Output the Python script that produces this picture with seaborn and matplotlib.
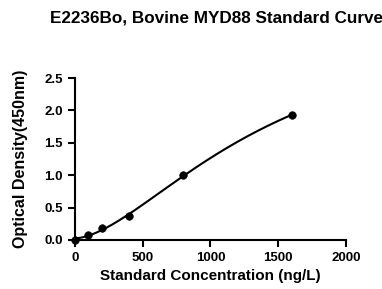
import numpy as np
import pandas as pd
import matplotlib.pyplot as plt
import seaborn as sns

# standard curve data
concentration = [0, 100, 200, 400, 800, 1600]
od_450 = [0.0, 0.08, 0.18, 0.37, 1.0, 1.93]

sns.set_style("ticks")
plt.rcParams["font.family"] = ["Liberation Sans", "DejaVu Sans"]
plt.rcParams["font.weight"] = "bold"
plt.rcParams["text.color"] = "black"
plt.rcParams["axes.labelcolor"] = "black"
plt.rcParams["xtick.color"] = "black"
plt.rcParams["ytick.color"] = "black"

df = pd.DataFrame({"conc": concentration, "od": od_450})


def four_pl(x, a, b, c, d):
    return d + (a - d) / (1 + (x / c) ** b)


# 4PL fit: grid over slope/midpoint, linear least squares for the asymptotes
x_arr = df["conc"].to_numpy(dtype=float)
y_arr = df["od"].to_numpy(dtype=float)
best = None
for b in np.linspace(1.0, 3.5, 51):
    for c in np.linspace(300, 6000, 115):
        g = 1 / (1 + (x_arr / c) ** b)
        A = np.column_stack([g, 1 - g])
        sol, *_ = np.linalg.lstsq(A, y_arr, rcond=None)
        err = np.sum((A @ sol - y_arr) ** 2)
        if best is None or err < best[0]:
            best = (err, sol[0], b, c, sol[1])
_, a, b, c, d = best

xs = np.linspace(0, max(concentration), 300)
fit = pd.DataFrame({"conc": xs, "od": four_pl(xs, a, b, c, d)})

fig = plt.figure(figsize=(3.82, 2.89), dpi=100)
ax = fig.add_axes([0.196, 0.170, 0.710, 0.560])

sns.lineplot(data=fit, x="conc", y="od", color="black", linewidth=1.5, ax=ax)
sns.scatterplot(data=df, x="conc", y="od", color="black", s=30,
                edgecolor="black", ax=ax, clip_on=False, zorder=5)

ax.set_xlim(0, 2000)
ax.set_ylim(0, 2.5)
ax.set_xticks([0, 500, 1000, 1500, 2000])
ax.set_yticks([0.0, 0.5, 1.0, 1.5, 2.0, 2.5])
ax.set_yticklabels(["0.0", "0.5", "1.0", "1.5", "2.0", "2.5"])
ax.tick_params(labelsize=9.5, width=1.5, length=5, color="black")
for lab in ax.get_xticklabels() + ax.get_yticklabels():
    lab.set_fontweight("bold")

ax.set_xlabel("Standard Concentration (ng/L)", fontsize=11, fontweight="bold",
              labelpad=4)
ax.set_ylabel("Optical Density(450nm)", fontsize=11.5, fontweight="bold",
              labelpad=12)
ax.spines[["top", "right"]].set_visible(False)
ax.spines[["left", "bottom"]].set_linewidth(1.5)
ax.spines[["left", "bottom"]].set_color("black")

fig.text(0.568, 0.938, "E2236Bo, Bovine MYD88 Standard Curve", ha="center",
         va="center", fontsize=12.3, fontweight="bold")

fig.savefig("out.png", dpi=100)
